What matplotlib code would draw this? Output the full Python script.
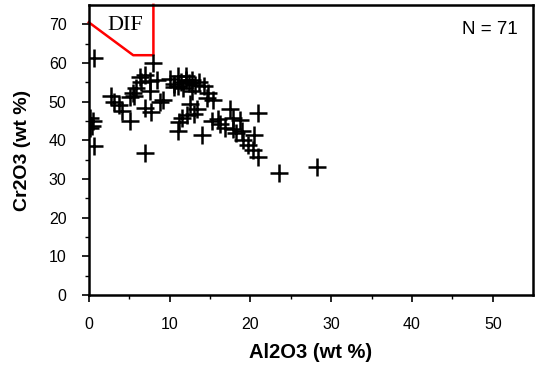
import matplotlib
matplotlib.use('Agg')
import matplotlib.pyplot as plt
import numpy as np

plt.rcParams['font.family'] = ['Liberation Sans', 'DejaVu Sans']

# Al2O3 / Cr2O3 (wt %)
al2o3 = [0.6, 0.2, 0.5, 0.4, 0.1, 0.6,
         2.7, 3.1, 3.8, 4.1, 5.1, 5.1, 5.5, 5.8, 6.3, 6.5, 6.9, 7.6, 8.0, 8.4,
         7.6, 6.9, 7.7, 7.0, 9.2, 5.6,
         10.1, 10.6, 11.0, 11.4, 11.7, 12.0, 12.4, 12.8, 13.2, 13.7, 14.2, 10.5,
         12.8, 14.8, 15.4, 14.6, 12.5, 13.4, 11.5, 12.2, 11.2, 11.1, 14.0, 11.0,
         13.0,
         15.2, 16.2, 16.8, 17.5, 17.9, 18.7, 18.2, 17.9, 19.1, 19.7, 20.3, 21.0,
         21.0, 20.5, 8.8, 16.0, 19.0,
         23.6, 28.2, 12.0]
cr2o3 = [61.2, 45.8, 45.0, 43.6, 43.2, 38.5,
         51.4, 50.0, 49.2, 47.7, 44.9, 51.2, 52.2, 53.6, 56.3, 55.0, 57.0, 55.3, 60.0, 55.7,
         52.7, 48.4, 47.2, 36.7, 50.4, 51.5,
         55.8, 54.6, 56.6, 55.2, 53.4, 56.5, 54.8, 55.7, 54.2, 55.0, 54.0, 53.8,
         52.8, 52.3, 50.3, 51.0, 49.3, 48.2, 45.8, 46.5, 44.8, 42.5, 41.3, 54.0,
         46.8,
         44.9, 44.1, 43.2, 48.0, 45.8, 45.3, 42.0, 43.0, 40.2, 38.9, 37.4, 35.6,
         47.1, 41.5, 50.0, 45.5, 42.5,
         31.5, 33.0, 55.5]

# DIF field boundary
dif_x = [0, 5.5, 8, 8]
dif_y = [70.5, 62, 62, 75]

fig = plt.figure(figsize=(5.38, 3.76), dpi=100)
ax = fig.add_axes([0.165, 0.215, 0.826, 0.772])

ax.plot(dif_x, dif_y, c='#ff0000', lw=1.8, clip_on=False, zorder=2)
ax.plot(al2o3, cr2o3, ls='none', marker='+', c='k', markersize=13, mew=1.8, zorder=3)

ax.text(4.5, 69.8, 'DIF', family='Liberation Serif', fontsize=16, ha='center', va='center')
ax.text(0.966, 0.914, 'N = 71', transform=ax.transAxes, fontsize=13.5, ha='right', va='center')

ax.set_xlim(0, 55)
ax.set_ylim(0, 75)
ax.set_xticks(np.arange(0, 51, 10))
ax.set_xticks(np.arange(5, 55, 10), minor=True)
ax.set_yticks(np.arange(0, 71, 10))
ax.set_yticks(np.arange(5, 75, 10), minor=True)
ax.tick_params(which='major', direction='out', length=5, width=1.2, labelsize=11.5, pad=11)
ax.tick_params(which='minor', direction='out', length=3, width=1.0)
for s in ax.spines.values():
    s.set_linewidth(1.8)

ax.set_xlabel('Al2O3 (wt %)', fontsize=14.5, weight='bold', va='center')
ax.set_ylabel('Cr2O3 (wt %)', fontsize=14, weight='bold', va='center')
ax.xaxis.set_label_coords(0.5, -0.197)
ax.yaxis.set_label_coords(-0.150, 0.5)

fig.savefig('out.png', dpi=100)
